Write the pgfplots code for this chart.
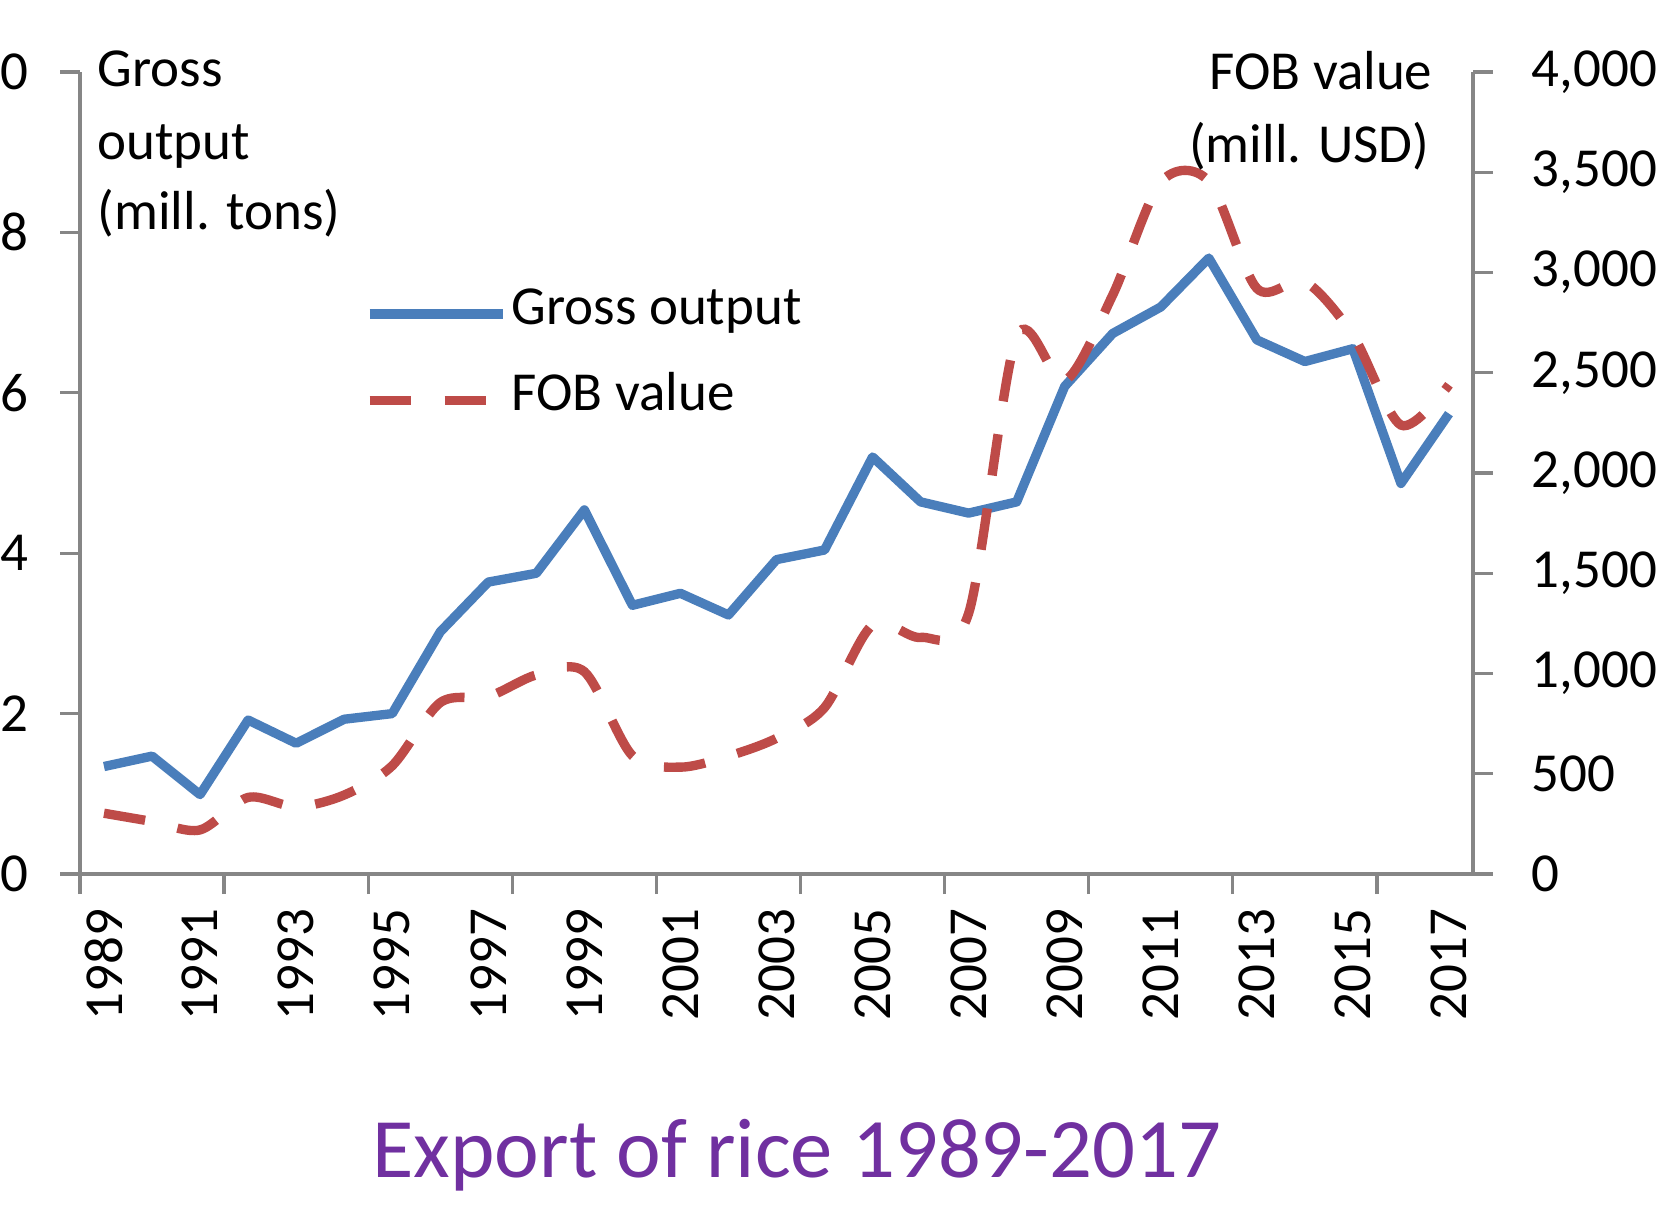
\documentclass[border=0pt]{standalone}
\usepackage{pgfplots}
\pgfplotsset{compat=1.18}
\usepackage{fontspec}
\setmainfont{Carlito}
\definecolor{axisgray}{HTML}{868686}
\definecolor{gblue}{HTML}{4A7EBB}
\definecolor{fred}{HTML}{BE4B48}
\definecolor{tpurple}{HTML}{7030A0}
\newcommand{\lab}{\fontsize{16.5}{20}\selectfont}

\pgfplotstableread{
year gross
1989 1.34
1990 1.47
1991 0.99
1992 1.92
1993 1.63
1994 1.93
1995 2.00
1996 3.02
1997 3.64
1998 3.75
1999 4.54
2000 3.35
2001 3.50
2002 3.23
2003 3.92
2004 4.04
2005 5.20
2006 4.64
2007 4.50
2008 4.64
2009 6.08
2010 6.74
2011 7.07
2012 7.68
2013 6.66
2014 6.39
2015 6.55
2016 4.87
2017 5.74
}\grossdata

\pgfplotstableread{
year fob
1989 303
1990 262
1991 220
1992 382
1993 335
1994 394
1995 540
1996 855
1997 885
1998 993
1999 1009
2000 590
2001 533
2002 588
2003 677
2004 830
2005 1242
2006 1180
2007 1300
2008 2680
2009 2460
2010 2888
2011 3450
2012 3455
2013 2921
2014 2954
2015 2688
2016 2239
2017 2440
}\fobdata

\begin{document}
\begin{tikzpicture}
\pgfplotsset{
  common/.style={
    scale only axis, width=417.9pt, height=240.6pt,
    at={(0,0)}, anchor=south west,
    xmin=1988.5, xmax=2017.5,
    axis line style={axisgray, line width=1pt},
    tick style={axisgray, line width=1pt},
    major tick length=6pt,
    tick label style={font=\lab, text=black},
    /pgf/number format/assume math mode=true,
    clip=false,
  }
}
\begin{axis}[common,
  axis lines*=left,
  ymin=0, ymax=10, ytick={0,2,4,6,8,10},
  xtick={1988.5,1991.5,1994.5,1997.5,2000.5,2003.5,2006.5,2009.5,2012.5,2015.5},
  xticklabels={},
  extra x ticks={1989,1991,1993,1995,1997,1999,2001,2003,2005,2007,2009,2011,2013,2015,2017},
  extra x tick labels={1989,1991,1993,1995,1997,1999,2001,2003,2005,2007,2009,2011,2013,2015,2017},
  extra x tick style={major tick length=0pt, tick style={draw=none}},
  xticklabel style={rotate=90, anchor=east},
  xticklabel shift=7pt,
  yticklabel shift=5.9pt,
  tick align=outside,
  legend cell align=left,
  legend image code/.code={\draw[#1] (0pt,0pt) -- (40pt,0pt);},
  legend style={at={(0.2046,0.7189)}, anchor=north west, draw=none, fill=none,
    inner sep=0pt, outer sep=0pt, row sep=16pt, column sep=1.2pt, font=\lab,
    nodes={inner sep=0pt, text height=0.8em, text depth=0.2em}},
]
\addplot[gblue, line width=2.8pt, line join=round] table[x=year, y=gross] {\grossdata};
\addlegendentry{Gross output}
\addlegendimage{fred, line width=2.8pt, dash pattern=on 12.5pt off 10pt}
\addlegendentry{FOB value}
\end{axis}
\begin{axis}[common,
  axis x line=none, axis y line*=right,
  xtick=\empty,
  ymin=0, ymax=4000, ytick={0,500,...,4000},
  /pgf/number format/1000 sep={,},
  yticklabel style={anchor=west},
  yticklabel shift=8.1pt,
  tick align=outside,
]
\addplot[fred, line width=2.8pt, dash pattern=on 12.5pt off 10pt, smooth] table[x=year, y=fob] {\fobdata};
\end{axis}
\node[anchor=base west, font=\lab, inner sep=0pt] at (5.1pt,236.1pt) {Gross};
\node[anchor=base west, font=\lab, inner sep=0pt] at (5.1pt,214.2pt) {output};
\node[anchor=base west, font=\lab, inner sep=0pt] at (5.1pt,193.2pt) {(mill. tons)};
\node[anchor=base east, font=\lab, inner sep=0pt] at (405.9pt,235.2pt) {FOB value};
\node[anchor=base east, font=\lab, inner sep=0pt] at (405pt,213.3pt) {(mill. USD)};
\node[anchor=base, font=\fontsize{25.4}{30}\selectfont, text=tpurple, inner sep=0pt] at (215.1pt,-90.9pt) {Export of rice 1989-2017};
\pgfresetboundingbox
\path[use as bounding box] (-24pt,-99.6pt) rectangle (474pt,262.2pt);
\end{tikzpicture}
\end{document}
